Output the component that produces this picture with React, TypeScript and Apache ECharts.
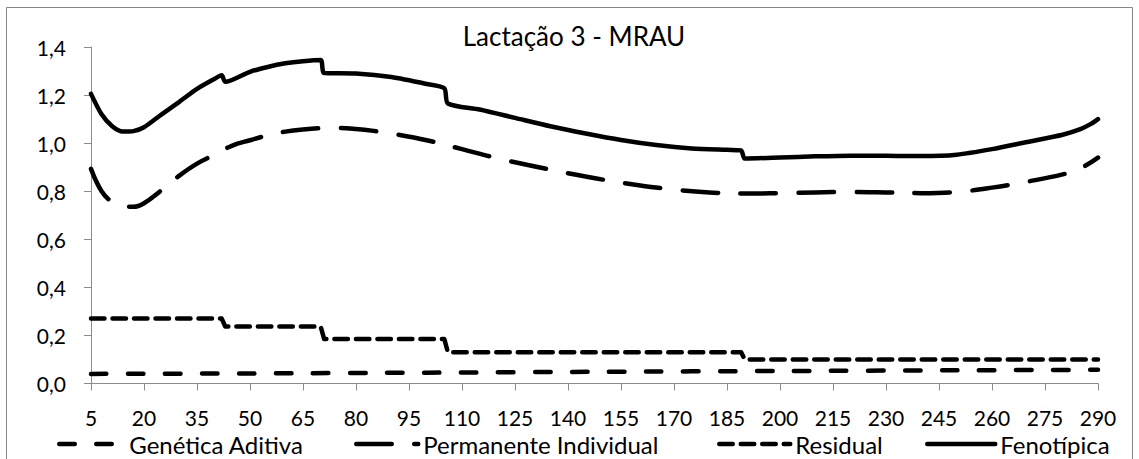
import React, { useEffect, useRef } from "react";
import * as echarts from "echarts";

const titleText = "Lactação 3 - MRAU";
const xTicks = [5, 20, 35, 50, 65, 80, 95, 110, 125, 140, 155, 170, 185, 200, 215, 230, 245, 260, 275, 290];

const seriesNames = ["Genética Aditiva", "Permanente Individual", "Residual", "Fenotípica"];

const geneticaDays = [5, 50, 100, 150, 200, 250, 290];
const geneticaAditiva = [0.040, 0.042, 0.045, 0.049, 0.052, 0.055, 0.057];

const permanenteDays = [5, 8, 11, 14, 17, 20, 25, 30, 35, 40, 45, 50, 55, 60, 65, 70, 75, 80, 85, 90, 100, 110, 120, 130, 140, 150, 160, 170, 180, 190, 200, 210, 220, 230, 240, 250, 260, 270, 280, 285, 290];
const permanenteIndividual = [0.893, 0.80, 0.755, 0.737, 0.735, 0.75, 0.805, 0.865, 0.915, 0.952, 0.99, 1.012, 1.033, 1.048, 1.057, 1.062, 1.063, 1.059, 1.051, 1.04, 1.012, 0.975, 0.937, 0.905, 0.875, 0.848, 0.825, 0.807, 0.795, 0.79, 0.792, 0.795, 0.797, 0.795, 0.792, 0.797, 0.815, 0.84, 0.87, 0.895, 0.94];

const residualDays = [5, 42, 43, 70, 71, 105, 106, 189, 190, 290];
const residual = [0.27, 0.27, 0.237, 0.237, 0.185, 0.185, 0.13, 0.13, 0.10, 0.10];

const fenotipicaDays = [5, 8, 11, 14, 17, 20, 25, 30, 35, 40, 42, 43, 50, 55, 60, 65, 70, 71, 80, 90, 100, 105, 106, 115, 125, 135, 145, 155, 165, 175, 185, 189, 190, 200, 210, 220, 230, 240, 250, 260, 270, 280, 285, 288, 290];
const fenotipica = [1.205, 1.12, 1.07, 1.048, 1.05, 1.066, 1.12, 1.172, 1.226, 1.268, 1.282, 1.255, 1.297, 1.317, 1.332, 1.341, 1.346, 1.292, 1.29, 1.275, 1.246, 1.228, 1.165, 1.14, 1.105, 1.07, 1.04, 1.013, 0.992, 0.978, 0.972, 0.97, 0.936, 0.94, 0.945, 0.948, 0.948, 0.946, 0.952, 0.975, 1.005, 1.035, 1.058, 1.08, 1.10];

const pairs = (xs: number[], ys: number[]) => xs.map((x, i) => [x, ys[i]]);

const FONT = "Lato";
const LW = 4.5;

export default function App() {
  const ref = useRef<HTMLDivElement>(null);

  useEffect(() => {
    document.body.style.margin = "0";
    const chart = echarts.init(ref.current!, undefined, { renderer: "svg" });

    const lineSeries = (name: string, data: number[][], dash: number[] | "solid", smooth: number | boolean) => ({
      name,
      type: "line",
      data,
      showSymbol: false,
      symbol: "none",
      smooth,
      lineStyle: { color: "#000", width: LW, type: dash, cap: "round", join: "round" },
      itemStyle: { color: "#000" },
    });

    // legend geometry: sample start, sample length, extra text gap
    const legendLefts = [52, 349, 712, 920];
    const legendWidths = [56, 62, 71, 68];
    const legendPads = [9, 0, 0, 0];
    const legends = seriesNames.map((n, i) => ({
      data: [n],
      left: legendLefts[i],
      top: 427,
      itemWidth: legendWidths[i],
      itemHeight: 14,
      itemGap: 0,
      itemStyle: { color: "transparent", borderColor: "transparent", borderWidth: 0, opacity: 0 },
      lineStyle: { width: LW, cap: "round" },
      textStyle: { fontFamily: FONT, fontSize: 24, lineHeight: 20, color: "#000", padding: [0, 0, 0, legendPads[i]] },
    }));

    chart.setOption({
      animation: false,
      backgroundColor: "#fff",
      title: {
        text: titleText,
        left: 569,
        textAlign: "center",
        top: 18,
        textStyle: { fontFamily: FONT, fontSize: 26, fontWeight: "normal", color: "#000" },
      },
      legend: legends,
      grid: { left: 91, right: 41, top: 47, bottom: 75.5, containLabel: false },
      xAxis: {
        type: "value",
        min: 5,
        max: 290,
        axisLine: { show: true, lineStyle: { color: "#8c8c8c", width: 1 } },
        axisTick: { show: true, length: 7, customValues: xTicks, lineStyle: { color: "#8c8c8c" } },
        axisLabel: { customValues: xTicks, fontFamily: FONT, fontSize: 21, lineHeight: 18, color: "#000", margin: 25 },
        splitLine: { show: false },
      },
      yAxis: {
        type: "value",
        min: 0,
        max: 1.4,
        interval: 0.2,
        axisLine: { show: true, lineStyle: { color: "#8c8c8c", width: 1 } },
        axisTick: { show: true, length: 7, lineStyle: { color: "#8c8c8c" } },
        axisLabel: {
          fontFamily: FONT,
          fontSize: 21,
          color: "#000",
          margin: 25,
          formatter: (v: number) => v.toFixed(1).replace(".", ","),
        },
        splitLine: { show: false },
      },
      graphic: [
        {
          type: "rect",
          shape: { x: 6.5, y: 7.5, width: 1126, height: 470 },
          style: { fill: "none", stroke: "#868686", lineWidth: 1 },
          silent: true,
        },
      ],
      series: [
        lineSeries(seriesNames[0], pairs(geneticaDays, geneticaAditiva), [15.5, 21.5], 0.3),
        lineSeries(seriesNames[1], pairs(permanenteDays, permanenteIndividual), [35.5, 22.5], 0.4),
        lineSeries(seriesNames[2], pairs(residualDays, residual), [13.5, 8], false),
        lineSeries(seriesNames[3], pairs(fenotipicaDays, fenotipica), "solid", 0.25),
      ],
    });

    return () => chart.dispose();
  }, []);

  return <div ref={ref} style={{ width: 1139, height: 459 }} />;
}
